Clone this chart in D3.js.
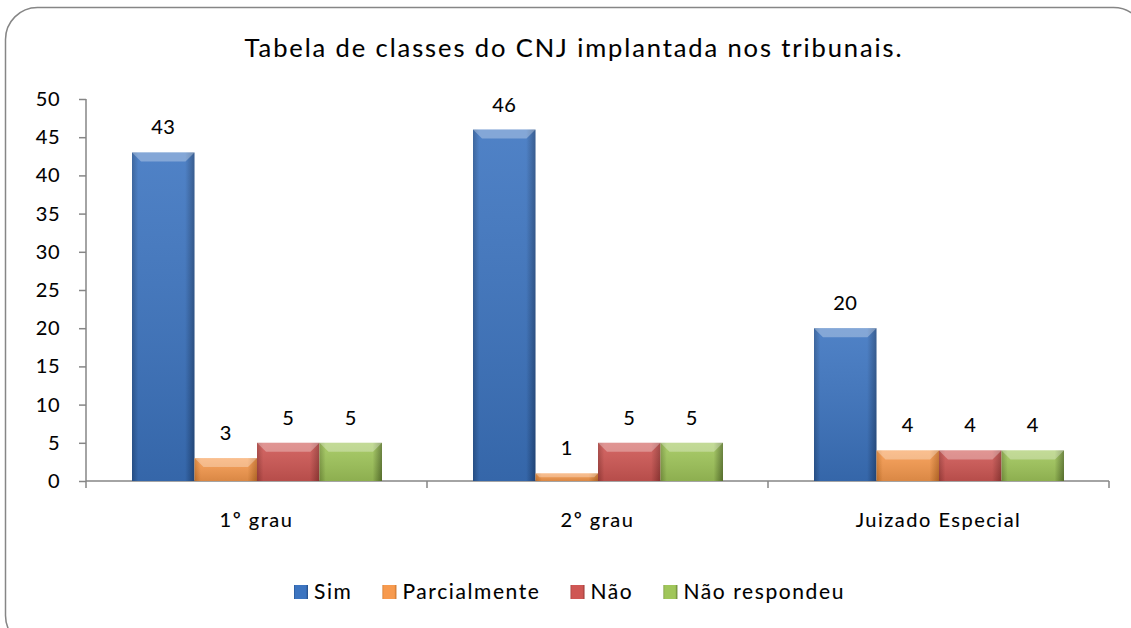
<!DOCTYPE html>
<html>
<head>
<meta charset="utf-8">
<script src="https://cdn.jsdelivr.net/npm/d3@7"></script>
<style>
  body { margin: 0; background: #fff; }
  svg { display: block; font-family: Lato, "Open Sans", sans-serif; }
  text { stroke: #000; stroke-width: 0.1px; }
</style>
</head>
<body>
<div id="chart"></div>
<script>
const categories = ["1º grau", "2º grau", "Juizado Especial"];
const series = ["Sim", "Parcialmente", "Não", "Não respondeu"];
const sim = [43, 46, 20];
const parcialmente = [3, 1, 4];
const nao = [5, 5, 4];
const naoRespondeu = [5, 5, 4];
const yTicks = [0, 5, 10, 15, 20, 25, 30, 35, 40, 45, 50];

const values = [sim, parcialmente, nao, naoRespondeu];
const colors = {
  "Sim": ["#2a5794", "#3c74c0", "#244c84"],
  "Parcialmente": ["#d27a2e", "#f79a4e", "#c46f28"],
  "Não": ["#a5403d", "#cf5754", "#983936"],
  "Não respondeu": ["#7c9a40", "#a0c65a", "#5f7a30"]
};

const width = 1131, height = 628;

const svg = d3.select("#chart").append("svg")
  .attr("width", width)
  .attr("height", height);

// frame
svg.append("rect")
  .attr("x", 5.5).attr("y", 7.5)
  .attr("width", 1140).attr("height", 640)
  .attr("rx", 32).attr("ry", 32)
  .attr("fill", "none")
  .attr("stroke", "#868686")
  .attr("stroke-width", 1.5);

svg.append("text")
  .attr("x", 574).attr("y", 57)
  .attr("text-anchor", "middle")
  .attr("font-size", 25.5)
  .attr("letter-spacing", 1.9)
  .attr("fill", "#000")
  .text("Tabela de classes do CNJ implantada nos tribunais.");

const x0 = d3.scaleBand().domain(categories).range([86, 1109]);
const x1 = d3.scaleBand().domain(series).range([46, x0.bandwidth() - 45]);
const y = d3.scaleLinear().domain([0, 50]).range([481, 99]);

// gradients
const defs = svg.append("defs");
series.forEach((s, i) => {
  const c = colors[s];
  const g = defs.append("linearGradient")
    .attr("id", "grad" + i)
    .attr("x1", "0").attr("x2", "1").attr("y1", "0").attr("y2", "0");
  g.append("stop").attr("offset", "0%").attr("stop-color", c[0]);
  g.append("stop").attr("offset", "10%").attr("stop-color", c[1]);
  g.append("stop").attr("offset", "85%").attr("stop-color", c[1]);
  g.append("stop").attr("offset", "100%").attr("stop-color", c[2]);
  const v = defs.append("linearGradient")
    .attr("id", "vgrad" + i)
    .attr("x1", "0").attr("x2", "0").attr("y1", "0").attr("y2", "1");
  v.append("stop").attr("offset", "0%").attr("stop-color", "#fff").attr("stop-opacity", 0.1);
  v.append("stop").attr("offset", "100%").attr("stop-color", "#000").attr("stop-opacity", 0.12);
});

// y axis
const yAxis = d3.axisLeft(y).tickValues(yTicks).tickSize(7).tickPadding(19);
const yg = svg.append("g").attr("transform", "translate(86,0)").call(yAxis);
yg.select(".domain").attr("stroke", "#868686").attr("stroke-width", 1.5)
  .attr("d", `M0,${y(0)}V${y(50)}`);
yg.selectAll(".tick line").attr("stroke", "#868686").attr("stroke-width", 1.5);
yg.selectAll(".tick text").attr("font-size", 20).attr("fill", "#000")
  .attr("letter-spacing", 0.5)
  .attr("font-family", "Lato, sans-serif");

// x axis
const boundaries = [...categories.map(c => x0(c)), x0.range()[1]];
const xg = svg.append("g");
xg.append("line")
  .attr("x1", x0.range()[0]).attr("x2", x0.range()[1])
  .attr("y1", y(0)).attr("y2", y(0))
  .attr("stroke", "#868686").attr("stroke-width", 1.5);
xg.selectAll(".xt").data(boundaries).enter().append("line")
  .attr("x1", d => d).attr("x2", d => d)
  .attr("y1", y(0)).attr("y2", y(0) + 7)
  .attr("stroke", "#868686").attr("stroke-width", 1.5);
xg.selectAll(".xl").data(categories).enter().append("text")
  .attr("x", d => x0(d) + x0.bandwidth() / 2)
  .attr("y", 527)
  .attr("text-anchor", "middle")
  .attr("font-size", 20)
  .attr("letter-spacing", 1.5)
  .text(d => d);

// bars
const bars = [];
categories.forEach((c, ci) => {
  series.forEach((s, si) => {
    bars.push({ cat: c, s, si, v: values[si][ci] });
  });
});

const bg = svg.append("g").selectAll("g").data(bars).enter().append("g");

bg.append("rect")
  .attr("x", d => x0(d.cat) + x1(d.s))
  .attr("y", d => y(d.v))
  .attr("width", x1.bandwidth())
  .attr("height", d => y(0) - y(d.v))
  .attr("fill", d => `url(#grad${d.si})`);

bg.append("rect")
  .attr("x", d => x0(d.cat) + x1(d.s))
  .attr("y", d => y(d.v))
  .attr("width", x1.bandwidth())
  .attr("height", d => y(0) - y(d.v))
  .attr("fill", d => `url(#vgrad${d.si})`);

// top bevel highlight
bg.append("path")
  .attr("d", d => {
    const xl = x0(d.cat) + x1(d.s), xr = xl + x1.bandwidth();
    const yt = y(d.v), h = Math.min(9, (y(0) - yt) / 2);
    return `M${xl},${yt}L${xr},${yt}L${xr - h},${yt + h}L${xl + h},${yt + h}Z`;
  })
  .attr("fill", "#fff")
  .attr("fill-opacity", 0.3);

// labels
bg.append("text")
  .attr("x", d => x0(d.cat) + x1(d.s) + x1.bandwidth() / 2)
  .attr("y", d => y(d.v) - 18)
  .attr("text-anchor", "middle")
  .attr("font-size", 20)
  .attr("letter-spacing", 0.5)
  .text(d => d.v);

// legend
const legend = svg.append("g").attr("transform", "translate(0,592)");
let lx = 294;
series.forEach((s, i) => {
  const item = legend.append("g").attr("transform", `translate(${lx},0)`);
  item.append("rect")
    .attr("x", 0).attr("y", -7)
    .attr("width", 14).attr("height", 14)
    .attr("fill", `url(#grad${i})`);
  const t = item.append("text")
    .attr("x", 20).attr("y", 7)
    .attr("font-size", 21)
    .attr("letter-spacing", 1.6)
    .text(s);
  lx += 20 + t.node().getComputedTextLength() + 30;
});
</script>
</body>
</html>
